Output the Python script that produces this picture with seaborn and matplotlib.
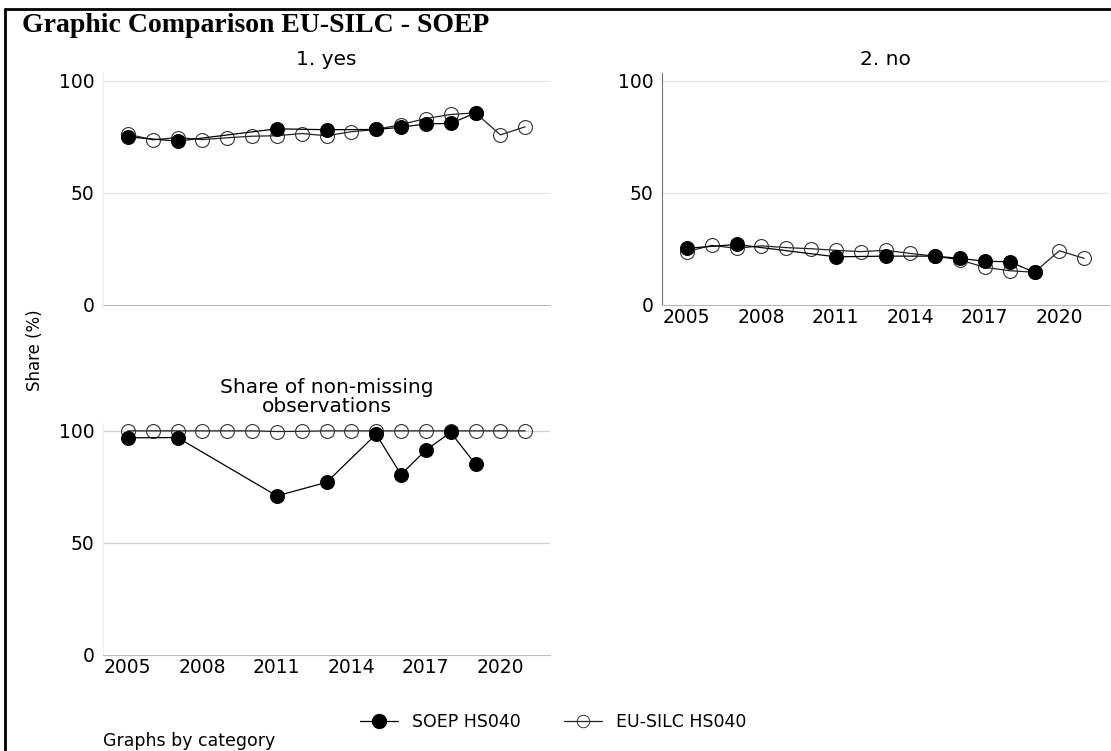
import numpy as np
import pandas as pd
import matplotlib
matplotlib.use("Agg")
import matplotlib.pyplot as plt
from matplotlib.lines import Line2D
import seaborn as sns

# DATA
years_all = [2005, 2006, 2007, 2008, 2009, 2010, 2011, 2012, 2013,
             2014, 2015, 2016, 2017, 2018, 2019, 2020, 2021]
years_soep = [2005, 2007, 2011, 2013, 2015, 2016, 2017, 2018, 2019]

soep_yes = [75.0, 73.1, 78.6, 78.2, 78.3, 79.3, 80.8, 81.0, 85.7]
silc_yes = [76.2, 73.7, 74.7, 73.8, 74.6, 75.3, 75.5, 76.5, 75.5,
            77.3, 78.3, 80.5, 83.2, 85.0, 85.7, 75.9, 79.5]

soep_no = [25.3, 27.0, 21.5, 21.8, 21.8, 20.8, 19.5, 19.3, 14.6]
silc_no = [23.8, 26.6, 25.3, 26.4, 25.6, 25.1, 24.4, 23.8, 24.4,
           23.0, 21.8, 20.1, 16.8, 15.3, 14.6, 24.2, 20.8]

soep_nonmiss = [96.9, 97.0, 71.0, 77.0, 98.5, 80.5, 91.4, 99.3, 85.1]
silc_nonmiss = [100.0, 100.0, 100.0, 100.0, 100.0, 100.0, 99.7, 99.8, 100.0,
                100.0, 100.0, 100.0, 100.0, 100.0, 100.0, 100.0, 100.0]

panel_titles = ["1. yes", "2. no", "Share of non-missing\nobservations"]
xticks = [2005, 2008, 2011, 2014, 2017, 2020]
yticks = [0, 50, 100]

soep_label = "SOEP HS040"
silc_label = "EU-SILC HS040"

# LONG TABLES
def make_df(soep, silc):
    a = pd.DataFrame({"year": years_soep, "share": soep, "source": soep_label})
    b = pd.DataFrame({"year": years_all, "share": silc, "source": silc_label})
    return a, b

panels = [make_df(soep_yes, silc_yes),
          make_df(soep_no, silc_no),
          make_df(soep_nonmiss, silc_nonmiss)]

sns.set_style("white")
plt.rcParams["font.family"] = ["DejaVu Sans"]
plt.rcParams["text.color"] = "black"
plt.rcParams["xtick.color"] = "black"
plt.rcParams["ytick.color"] = "black"
plt.rcParams["axes.titlecolor"] = "black"

fig = plt.figure(figsize=(11.11, 7.51), dpi=100)

W, H = 1111, 751
ax_w, ax_h = 447, 232
# left, top (pixels) of each panel
boxes = [(103, 73), (662, 73), (103, 423)]

for i, (soep_df, silc_df) in enumerate(panels):
    left, top = boxes[i]
    ax = fig.add_axes([left / W, 1 - (top + ax_h) / H, ax_w / W, ax_h / H])

    sns.lineplot(data=silc_df, x="year", y="share", ax=ax, color="#222222",
                 lw=0.9, marker="o", markersize=10, markerfacecolor="none",
                 markeredgecolor="#333333", markeredgewidth=0.8)
    sns.lineplot(data=soep_df, x="year", y="share", ax=ax, color="black",
                 lw=0.9, marker="o", markersize=10, markerfacecolor="black",
                 markeredgecolor="black")

    ax.set_xlim(2004, 2022)
    ax.set_ylim(0, 103.5)
    ax.set_yticks(yticks)
    ax.set_xticks(xticks)
    for y in (50, 100):
        ax.axhline(y, color="#e6e6e6" if i < 2 else "#d0d0d0", lw=0.9, zorder=0)
    for s in ["top", "right"]:
        ax.spines[s].set_visible(False)
    ax.spines["bottom"].set_color("#bbbbbb")
    ax.spines["left"].set_color("#777777" if i == 1 else "#eeeeee")
    ax.tick_params(axis="both", labelsize=13.5, length=0, pad=2)
    ax.tick_params(axis="y", pad=6)
    if i == 0:
        ax.set_xticklabels([])
    ax.set_xlabel("")
    ax.set_ylabel("")
    if ax.get_legend():
        ax.get_legend().remove()
    ax.set_title(panel_titles[i], fontsize=14.5, pad=6 if i < 2 else 8,
                 linespacing=1.0)

fig.text(35 / W, 1 - 350 / H, "Share (%)", rotation=90, ha="center",
         va="center", fontsize=12)

fig.text(22 / W, 1 - 25 / H, "Graphic Comparison EU-SILC - SOEP",
         family="Liberation Serif", fontweight="bold", fontsize=20,
         ha="left", va="center")

handles = [Line2D([], [], color="black", lw=0.9, marker="o", markersize=10,
                  markerfacecolor="black"),
           Line2D([], [], color="#222222", lw=0.9, marker="o", markersize=9,
                  markerfacecolor="none", markeredgecolor="#333333",
                  markeredgewidth=0.7)]
fig.legend(handles, [soep_label, silc_label], loc="center",
           bbox_to_anchor=(553 / W, 1 - 722 / H), ncol=2, frameon=False,
           fontsize=12.5, handlelength=2.2, columnspacing=2.5)

fig.text(103 / W, 1 - 741 / H, "Graphs by category", fontsize=12.5,
         ha="left", va="center")

# frame (top + left only, the rest is cropped)
fig.add_artist(Line2D([5 / W, 1.0], [1 - 9 / H, 1 - 9 / H],
                      color="black", lw=2, transform=fig.transFigure))
fig.add_artist(Line2D([5 / W, 5 / W], [0, 1 - 9 / H],
                      color="black", lw=2, transform=fig.transFigure))

fig.savefig("out.png", dpi=100)
